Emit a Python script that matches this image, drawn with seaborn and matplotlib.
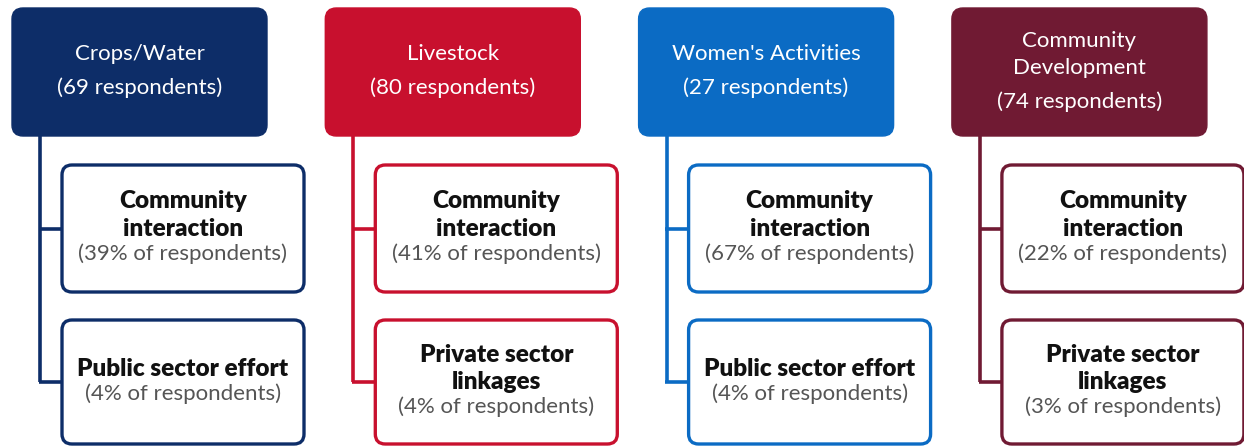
import numpy as np
import seaborn as sns
import matplotlib.pyplot as plt
from matplotlib.patches import FancyBboxPatch

# Data: one column per activity type
groups = ['Crops/Water', 'Livestock', "Women's Activities", 'Community\nDevelopment']
n_respondents = [69, 80, 27, 74]
top_factor = ['Community\ninteraction', 'Community\ninteraction',
              'Community\ninteraction', 'Community\ninteraction']
top_share = [39, 41, 67, 22]
second_factor = ['Public sector effort', 'Private sector\nlinkages',
                 'Public sector effort', 'Private sector\nlinkages']
second_share = [4, 4, 4, 3]
colors = ['#0d2d68', '#c8102e', '#0b6bc4', '#701a33']

sns.set_theme(style='white')
plt.rcParams['font.family'] = ['Lato', 'DejaVu Sans']

fig = plt.figure(figsize=(12.44, 4.46), dpi=100)
ax = fig.add_axes([0, 0, 1, 1])
ax.set_xlim(0, 1244)
ax.set_ylim(446, 0)
ax.axis('off')

# layout in pixels
col_step = 313.3
head_x, head_w, head_top, head_bot = 12, 255, 8, 136
child_dx, child_w = 50, 242
boxes_y = [(165, 292), (320, 444)]
line_dx = 28
fs = 16
fs_bold = 17.5


def child_text(cx, cy, label, share):
    lines = label.split('\n')
    n = len(lines)
    total = (n - 1) * 27 + 25
    y0 = cy - total / 2
    for k, ln in enumerate(lines):
        ax.text(cx, y0 + k * 27, ln, ha='center', va='center',
                fontsize=fs_bold, fontweight='heavy', color='#111111')
    ax.text(cx, y0 + (n - 1) * 27 + 25, f'({share}% of respondents)',
            ha='center', va='center', fontsize=fs, color='#555555')


for i, g in enumerate(groups):
    c = colors[i]
    x0 = head_x + i * col_step
    # header box
    ax.add_patch(FancyBboxPatch((x0, head_top), head_w, head_bot - head_top,
                                boxstyle='round,pad=0,rounding_size=11',
                                fc=c, ec=c, lw=1, zorder=2))
    title_lines = g.split('\n')
    nt = len(title_lines)
    y_count = 88 + (nt - 1) * 14
    y_first = y_count - 34 - (nt - 1) * 27
    for k, ln in enumerate(title_lines):
        ax.text(x0 + head_w / 2, y_first + k * 27, ln, ha='center', va='center',
                fontsize=fs, color='white', zorder=3)
    ax.text(x0 + head_w / 2, y_count, f'({n_respondents[i]} respondents)',
            ha='center', va='center', fontsize=fs, color='white', zorder=3)

    # connector lines
    lx = x0 + line_dx
    cxl = x0 + child_dx
    mids = [(a + b) / 2 for a, b in boxes_y]
    ax.plot([lx, lx], [head_bot, mids[-1]], color=c, lw=2.6,
            solid_capstyle='butt', zorder=1)
    for m in mids:
        ax.plot([lx - 1.3, cxl], [m, m], color=c, lw=2.6,
                solid_capstyle='butt', zorder=1)

    # child boxes
    for (ya, yb), lab, sh in zip(boxes_y, [top_factor[i], second_factor[i]],
                                 [top_share[i], second_share[i]]):
        ax.add_patch(FancyBboxPatch((cxl, ya), child_w, yb - ya,
                                    boxstyle='round,pad=0,rounding_size=10',
                                    fc='white', ec=c, lw=2.4, zorder=2))
        child_text(cxl + child_w / 2, (ya + yb) / 2 - 1, lab, sh)

fig.savefig('out.png', dpi=100, facecolor='white')
